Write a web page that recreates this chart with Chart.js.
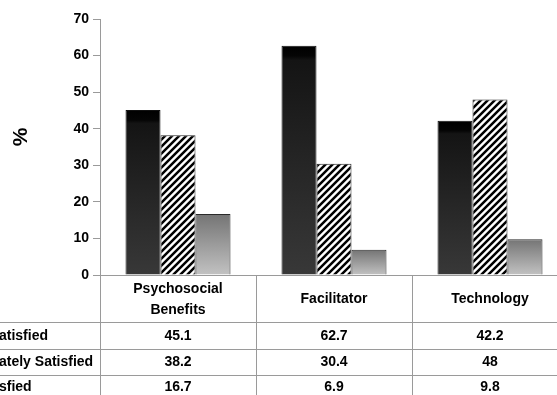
<!DOCTYPE html>
<html>
<head>
<meta charset="utf-8">
<script src="https://cdn.jsdelivr.net/npm/chart.js@4/dist/chart.umd.min.js"></script>
<style>
  html, body { margin: 0; padding: 0; background: #fff; overflow: hidden; width: 557px; height: 395px; }
  #wrap { position: absolute; left: 0; top: 0; width: 620px; height: 395px; }
</style>
</head>
<body>
<div id="wrap"><canvas id="chart"></canvas></div>
<script>
// Categories (multi-line header labels) and the three satisfaction series (%)
const categories = [['Psychosocial', 'Benefits'], 'Facilitator', 'Technology'];
const seriesNames = ['Satisfied', 'Moderately Satisfied', 'Dissatisfied'];
const rowLabels = ['atisfied', 'ately Satisfied', 'sfied'];
const satisfied = [45.1, 62.7, 42.2];
const moderatelySatisfied = [38.2, 30.4, 48];
const dissatisfied = [16.7, 6.9, 9.8];
const yTicks = [0, 10, 20, 30, 40, 50, 60, 70];

const FONT = '"Liberation Sans", Arial, Helvetica, sans-serif';
const LINE = '#9a9a9a';

// Vertical gradient spanning a single bar, from its top down to the baseline
function barGradient(ctx, makeStops) {
  const chart = ctx.chart;
  const y = chart.scales && chart.scales.y;
  if (!chart.chartArea || !y || ctx.raw == null) return '#333';
  const top = y.getPixelForValue(ctx.raw);
  const base = y.getPixelForValue(0);
  const g = chart.ctx.createLinearGradient(0, top, 0, base);
  makeStops(base - top).forEach(([o, c]) => g.addColorStop(o, c));
  return g;
}

const darkStops = h => {
  const band = Math.min(0.5, 10 / Math.max(h, 1));
  return [[0, '#000'], [band, '#050505'], [Math.min(1, band + 0.02), '#141414'], [1, '#383838']];
};
const lightStops = () => [[0, '#747474'], [1, '#c2c2c2']];

// Diagonal "/" hatch: white ground with black stripes
function hatchPattern() {
  const s = 7;
  const c = document.createElement('canvas');
  c.width = s; c.height = s;
  const x = c.getContext('2d');
  x.fillStyle = '#fff';
  x.fillRect(0, 0, s, s);
  x.strokeStyle = '#000';
  x.lineWidth = 2.5;
  x.beginPath();
  x.moveTo(-1, s + 1); x.lineTo(s + 1, -1);
  x.moveTo(-2, 2); x.lineTo(2, -2);
  x.moveTo(s - 2, s + 2); x.lineTo(s + 2, s - 2);
  x.stroke();
  return x.createPattern(c, 'repeat');
}

// Data table under the plot plus the rotated "%" axis caption
const tablePlugin = {
  id: 'dataTable',
  afterDraw(chart) {
    const { ctx, chartArea, scales: { x } } = chart;
    const W = chart.width, H = chart.height;
    const step = (chartArea.right - chartArea.left) / categories.length;
    const top = chartArea.bottom;
    const rowLines = [47, 74, 100];
    const rowCenters = [61, 87, 112.5];
    const series = [satisfied, moderatelySatisfied, dissatisfied];

    ctx.save();
    ctx.strokeStyle = LINE;
    ctx.lineWidth = 1;
    ctx.beginPath();
    for (let i = 0; i <= categories.length; i++) {
      const px = Math.round(chartArea.left + i * step) + 0.5;
      ctx.moveTo(px, top);
      ctx.lineTo(px, H);
    }
    rowLines.forEach(dy => {
      const py = Math.round(top + dy) + 0.5;
      ctx.moveTo(0, py);
      ctx.lineTo(W, py);
    });
    ctx.stroke();

    ctx.fillStyle = '#000';
    ctx.font = 'bold 14px ' + FONT;
    ctx.textAlign = 'center';
    ctx.textBaseline = 'middle';
    categories.forEach((c, i) => {
      const lines = Array.isArray(c) ? c : [c];
      const cx = x.getPixelForValue(i);
      lines.forEach((t, j) => {
        ctx.fillText(t, cx, top + 24.5 + (j - (lines.length - 1) / 2) * 20.5);
      });
    });

    series.forEach((vals, r) => {
      const cy = top + rowCenters[r];
      vals.forEach((v, i) => ctx.fillText(String(v), x.getPixelForValue(i), cy));
      ctx.textAlign = 'left';
      ctx.fillText(rowLabels[r], -1, cy);
      ctx.textAlign = 'center';
    });

    ctx.font = 'bold 21px ' + FONT;
    ctx.translate(21, (chartArea.top + chartArea.bottom) / 2 - 10);
    ctx.rotate(-Math.PI / 2);
    ctx.fillText('%', 0, 0);
    ctx.restore();
  }
};

const hatch = hatchPattern();

new Chart(document.getElementById('chart'), {
  type: 'bar',
  data: {
    labels: categories,
    datasets: [
      { label: seriesNames[0], data: satisfied,
        backgroundColor: c => barGradient(c, darkStops), borderColor: '#111', borderWidth: 1 },
      { label: seriesNames[1], data: moderatelySatisfied,
        backgroundColor: hatch, borderColor: '#222', borderWidth: 1 },
      { label: seriesNames[2], data: dissatisfied,
        backgroundColor: c => barGradient(c, lightStops), borderColor: '#2a2a2a', borderWidth: 1 }
    ]
  },
  options: {
    responsive: true,
    maintainAspectRatio: false,
    animation: false,
    datasets: { bar: { barPercentage: 1, categoryPercentage: 0.673 } },
    layout: { padding: { top: 19, right: 52, bottom: 0, left: 0 } },
    plugins: { legend: { display: false }, tooltip: { enabled: false } },
    scales: {
      x: {
        grid: { display: false },
        border: { display: true, color: LINE },
        ticks: { display: false },
        afterFit(s) { s.height = 120; }
      },
      y: {
        min: 0,
        max: 70,
        afterBuildTicks(s) { s.ticks = yTicks.map(v => ({ value: v })); },
        ticks: { color: '#000', padding: 4, font: { family: FONT, size: 14, weight: 'bold' } },
        grid: { drawOnChartArea: false, drawTicks: true, tickLength: 7, color: LINE },
        border: { display: true, color: LINE },
        afterFit(s) { s.width = 100; }
      }
    }
  },
  plugins: [tablePlugin]
});
</script>
</body>
</html>
